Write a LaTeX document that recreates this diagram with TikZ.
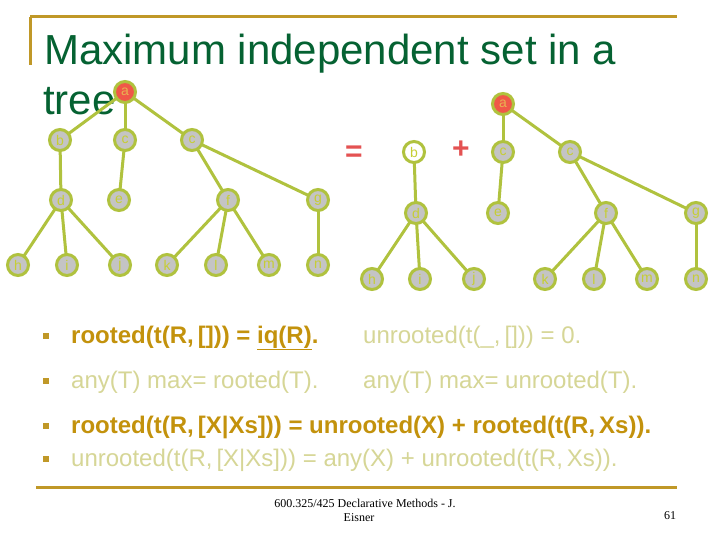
\documentclass[tikz,border=0pt]{standalone}
\usepackage{fontspec}
\setmainfont{Liberation Sans}
\newfontfamily\footfont{Liberation Serif}
\definecolor{titlegreen}{RGB}{5,98,50}
\definecolor{rulegold}{RGB}{192,152,40}
\definecolor{edgeolive}{RGB}{176,194,62}
\definecolor{nodegray}{RGB}{196,196,196}
\definecolor{labolive}{RGB}{198,206,52}
\definecolor{rootred}{RGB}{240,88,72}
\definecolor{rootlab}{RGB}{232,178,82}
\definecolor{signred}{RGB}{228,82,82}
\definecolor{boldgold}{RGB}{195,146,12}
\definecolor{paletext}{RGB}{214,214,150}
\pgfdeclarelayer{bglayer}
\pgfdeclarelayer{edgelayer}
\pgfsetlayers{bglayer,edgelayer,main}
\tikzset{
  tn/.style={circle, draw=edgeolive, line width=3pt, fill=nodegray, minimum size=21pt, inner sep=0pt, text=labolive, font=\fontsize{14}{14}\selectfont},
  rootn/.style={tn, fill=rootred, text=rootlab},
  whiten/.style={tn, fill=white, text=labolive},
  ed/.style={draw=edgeolive, line width=3pt},
  sign/.style={text=signred, font=\bfseries\fontsize{30}{30}\selectfont, inner sep=0pt},
  bul/.style={fill=rulegold, minimum size=6pt, inner sep=0pt},
  boldline/.style={anchor=base west, inner sep=0pt, text=boldgold, font=\bfseries\fontsize{24}{24}\selectfont},
  paleline/.style={anchor=base west, inner sep=0pt, text=paletext, font=\fontsize{24}{24}\selectfont},
  foot/.style={inner sep=0pt, font=\footfont\fontsize{12}{12}\selectfont},
  titletext/.style={anchor=base west, inner sep=0pt, text=titlegreen, font=\fontsize{42}{42}\selectfont}
}
\begin{document}
\begin{tikzpicture}[x=1pt,y=-1pt]
\begin{pgfonlayer}{bglayer}
\useasboundingbox (0,0) rectangle (720,540);
\fill[white] (0,0) rectangle (720,540);
\draw[rulegold, line width=3pt] (30,17) -- (677,17);
\draw[rulegold, line width=3pt] (30,17) -- (30,65);
\draw[rulegold, line width=3pt] (36,487) -- (677,487);
\node[titletext] (title1) at (44,65) {Maximum independent set in a};
\node[titletext] (title2) at (43,115) {tree};
\end{pgfonlayer}
% left tree
\node[rootn] (La) at (125,92) {a};
\node[tn] (Lb) at (60,140) {b};
\node[tn] (Lc1) at (125,140) {c};
\node[tn] (Lc2) at (192,140) {c};
\node[tn] (Ld) at (61,200) {d};
\node[tn] (Le) at (119,200) {e};
\node[tn] (Lf) at (228,200) {f};
\node[tn] (Lg) at (318,200) {g};
\node[tn] (Lh) at (18,265) {h};
\node[tn] (Li) at (67,265) {i};
\node[tn] (Lj) at (120,265) {j};
\node[tn] (Lk) at (167,265) {k};
\node[tn] (Ll) at (216,265) {l};
\node[tn] (Lm) at (269,265) {m};
\node[tn] (Ln) at (318,265) {n};
% right tree
\node[rootn] (Ra) at (503,104) {a};
\node[whiten] (Rb) at (414,152) {b};
\node[tn] (Rc1) at (503,152) {c};
\node[tn] (Rc2) at (570,152) {c};
\node[tn] (Rd) at (416,213) {d};
\node[tn] (Re) at (498,213) {e};
\node[tn] (Rf) at (606,213) {f};
\node[tn] (Rg) at (696,213) {g};
\node[tn] (Rh) at (372,279) {h};
\node[tn] (Ri) at (420,279) {i};
\node[tn] (Rj) at (474,279) {j};
\node[tn] (Rk) at (545,279) {k};
\node[tn] (Rl) at (594,279) {l};
\node[tn] (Rm) at (647,279) {m};
\node[tn] (Rn) at (696,279) {n};
\begin{pgfonlayer}{edgelayer}
\foreach \p/\c in {La/Lb,La/Lc1,La/Lc2,Lb/Ld,Lc1/Le,Lc2/Lf,Lc2/Lg,Ld/Lh,Ld/Li,Ld/Lj,Lf/Lk,Lf/Ll,Lf/Lm,Lg/Ln,Ra/Rc1,Ra/Rc2,Rb/Rd,Rc1/Re,Rc2/Rf,Rc2/Rg,Rd/Rh,Rd/Ri,Rd/Rj,Rf/Rk,Rf/Rl,Rf/Rm,Rg/Rn}
  \draw[ed] (\p.center) -- (\c.center);
\end{pgfonlayer}
\node[sign] (eq) at (354,154) {=};
\node[sign] (plus) at (461,150) {+};
% bullets
\node[bul] (b1) at (46,336) {};
\node[bul] (b2) at (46,381) {};
\node[bul] (b3) at (46,426) {};
\node[bul] (b4) at (46,459) {};
\node[boldline] (t1) at (71,343) {rooted(t(R,\,[])) = \underline{iq(R)}.};
\node[paleline] (t1b) at (363,343) {unrooted(t(\_,\,[])) = 0.};
\node[paleline] (t2) at (71,388) {any(T) max= rooted(T).};
\node[paleline] (t2b) at (363,388) {any(T) max= unrooted(T).};
\node[boldline] (t3) at (71,433) {rooted(t(R,\,[X|Xs])) = unrooted(X) + rooted(t(R,\,Xs)).};
\node[paleline] (t4) at (71,466) {unrooted(t(R,\,[X|Xs])) = any(X) + unrooted(t(R,\,Xs)).};
% footer
\node[foot] (f1) at (365,503) {600.325/425 Declarative Methods - J.};
\node[foot] (f2) at (359,518) {Eisner};
\node[foot] (f3) at (670,516) {61};
\end{tikzpicture}
\end{document}
